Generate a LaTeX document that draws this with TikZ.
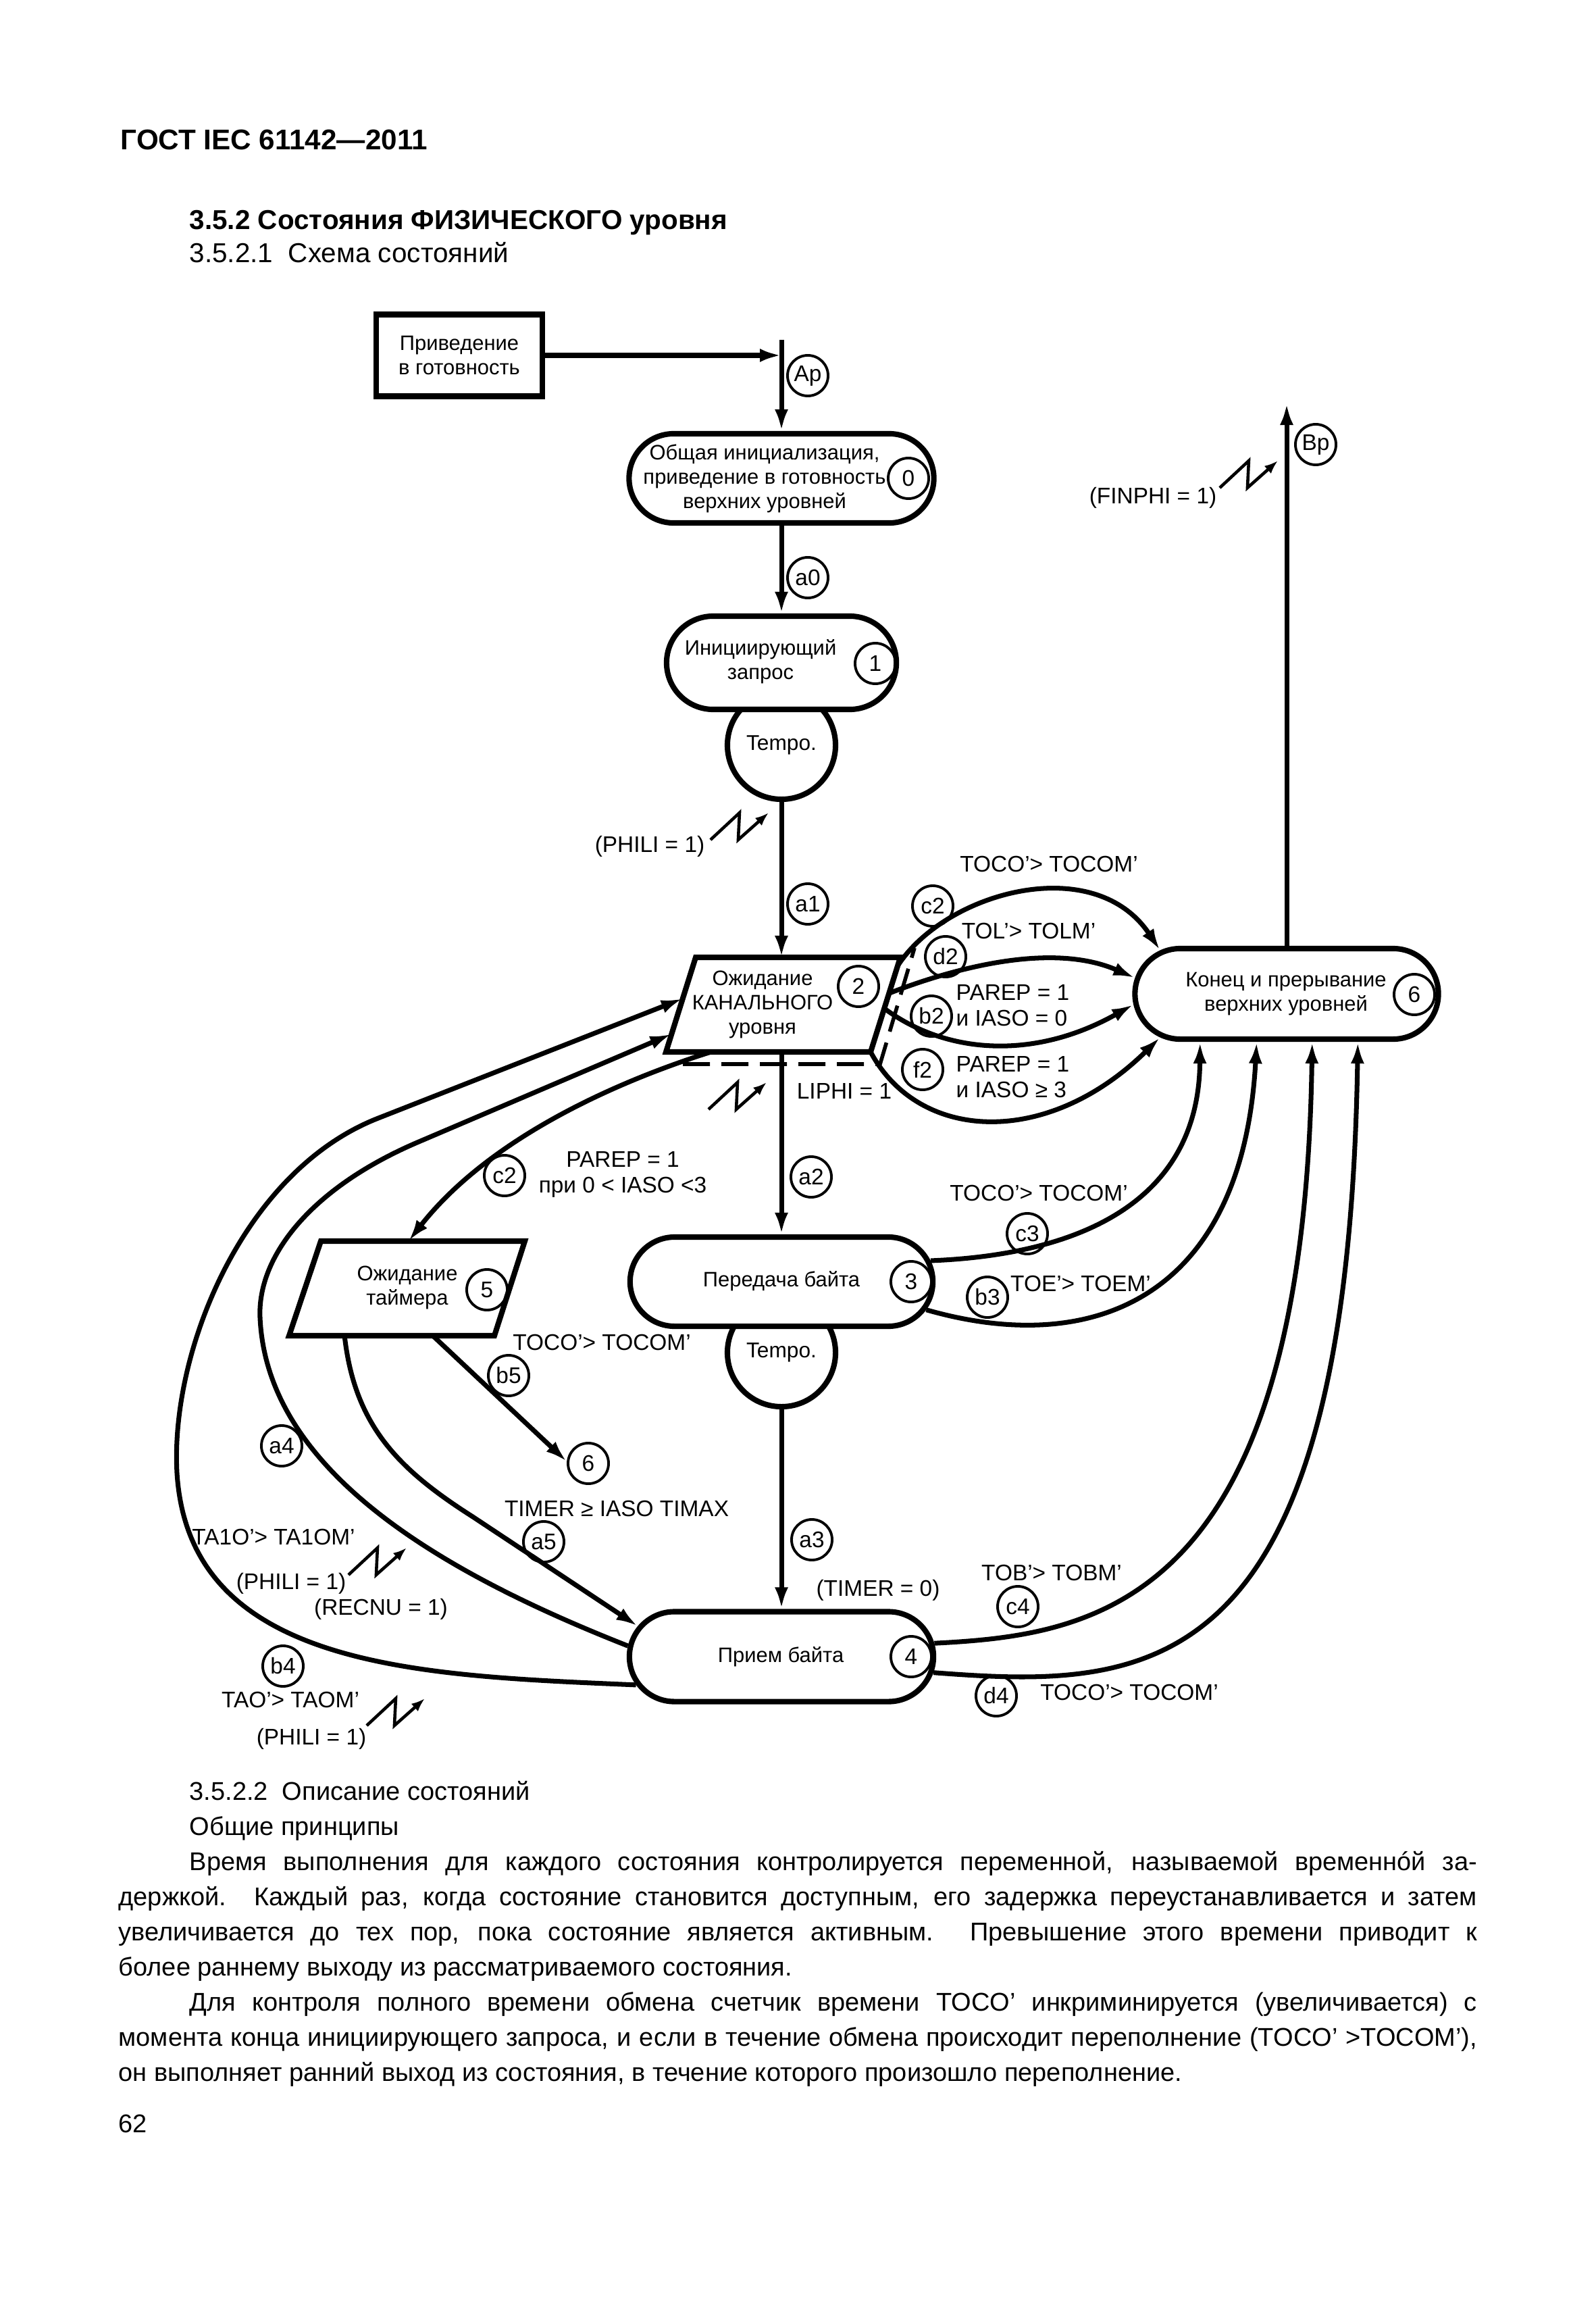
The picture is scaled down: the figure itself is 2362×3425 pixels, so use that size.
\documentclass[tikz,border=0pt]{standalone}
\usepackage{fontspec}
\setmainfont{Liberation Sans}
\usetikzlibrary{arrows.meta,shapes.misc,calc,positioning}
\tikzset{
    bloque/.style={draw,line width=2.3pt,fill=white,inner sep=0pt},
    estado/.style={rounded rectangle,draw,line width=2.3pt,fill=white,inner sep=0pt},
    tempo/.style={circle,draw,line width=2.3pt,fill=white,minimum size=1.6cm,inner sep=0pt,font=\fontsize{9}{10}\selectfont},
    num/.style={circle,draw,line width=1.1pt,minimum size=0.6cm,inner sep=0pt,font=\fontsize{9.5}{10}\selectfont},
    txt/.style={align=center,inner sep=0pt,font=\fontsize{8.8}{10.2}\selectfont},
    cond/.style={align=left,inner sep=0pt,font=\fontsize{9.5}{10.8}\selectfont},
    flecha/.style={draw,line width=2pt,-{Latex[length=3.2mm,width=2mm]}},
    rayo/.style={line width=1.3pt,-{Latex[length=2mm,width=1.5mm]}},
    punteado/.style={line width=1.6pt,dash pattern=on 4mm off 1.7mm},
}
\newcommand{\relampago}[1]{\draw[rayo] (#1) -- ++(43,-40) -- ++(-2,40) -- ++(45,-40);}

\begin{document}
\begin{tikzpicture}[x=0.01cm,y=-0.01cm]
    \useasboundingbox (0,0) rectangle (2362,3425);

    % encabezado
    \node[anchor=base west,inner sep=0pt,font=\bfseries\fontsize{12}{14}\selectfont] (gost) at (178,222) {ГОСТ IEC 61142—2011};
    \node[anchor=base west,inner sep=0pt,font=\bfseries\fontsize{11.5}{14}\selectfont] (secc) at (280,340) {3.5.2 Состояния ФИЗИЧЕСКОГО уровня};
    \node[anchor=base west,inner sep=0pt,font=\fontsize{11.5}{14}\selectfont] (subsecc) at (280,389) {3.5.2.1\ \ Схема состояний};

    % estados
    \node [tempo] (t1) at (1157,1103) {Tempo.};
    \node [tempo] (t3) at (1157,2002) {Tempo.};

    \node [bloque,txt,minimum width=2.46cm,minimum height=1.21cm] (init) at (680,526) {Приведение\\в готовность};

    \node [estado,minimum width=4.51cm,minimum height=1.32cm] (e0) at (1157,708) {};
    \node [txt] (e0txt) at (1132,708) {Общая инициализация,\\приведение в готовность\\верхних уровней};
    \node [num] (n0) at (1345,708) {0};

    \node [estado,minimum width=3.40cm,minimum height=1.38cm] (e1) at (1157,981) {};
    \node [txt] (e1txt) at (1126,979) {Инициирующий\\запрос};
    \node [num] (n1) at (1296,982) {1};

    \coordinate (p2nw) at (1030,1417);
    \coordinate (p2ne) at (1333,1417);
    \coordinate (p2se) at (1289,1557);
    \coordinate (p2sw) at (986,1557);
    \draw [bloque] (p2sw) -- (p2nw) -- (p2ne) -- (p2se) -- cycle;
    \node [txt] (e2txt) at (1129,1487) {Ожидание\\КАНАЛЬНОГО\\уровня};
    \node [num] (n2) at (1271,1460) {2};
    \draw [punteado] ($(p2sw)+(25,18)$) -- ($(p2se)+(14,18)$) -- ($(p2ne)+(21,-14)$);

    \node [estado,minimum width=4.48cm,minimum height=1.32cm] (e3) at (1157,1897) {};
    \node [txt] (e3txt) at (1157,1896) {Передача байта};
    \node [num] (n3) at (1349,1897) {3};

    \node [estado,minimum width=4.50cm,minimum height=1.33cm] (e4) at (1157,2452) {};
    \node [txt] (e4txt) at (1156,2452) {Прием байта};
    \node [num] (n4) at (1349,2452) {4};

    \coordinate (p5nw) at (475,1837);
    \coordinate (p5ne) at (777,1837);
    \coordinate (p5se) at (732,1977);
    \coordinate (p5sw) at (428,1977);
    \draw [bloque] (p5sw) -- (p5nw) -- (p5ne) -- (p5se) -- cycle;
    \node [txt] (e5txt) at (603,1906) {Ожидание\\таймера};
    \node [num] (n5) at (721,1909) {5};

    \node [estado,minimum width=4.49cm,minimum height=1.34cm] (e6) at (1905,1471) {};
    \node [txt] (e6txt) at (1904,1471) {Конец и прерывание\\верхних уровней};
    \node [num] (n6) at (2094,1472) {6};

    \node [num] (fin6) at (871,2166) {6};

    \coordinate (apTop) at (1157,503);
    \coordinate (bpTop) at (1905,597);

    % transiciones
    \path [flecha] (init.east) -- (init.east -| apTop);
    \path [flecha] (apTop) -- (e0.north);
    \path [flecha] (e0.south) -- (e1.north);
    \path [flecha] (t1.south) -- (t1.south |- p2nw);
    \path [flecha] (e3.north |- p2sw) -- (e3.north);
    \path [flecha] (t3.south) -- (e4.north);
    \path [flecha] (e6.north) -- (bpTop);

    \path [flecha] ($(p2ne)!0.09!(p2se)$) .. controls (1400,1320) and (1620,1260) .. (e6.161);
    \path [flecha] ($(p2ne)!0.38!(p2se)$) .. controls (1420,1430) and (1560,1395) .. (e6.174);
    \path [flecha] ($(p2ne)!0.54!(p2se)$) .. controls (1400,1560) and (1530,1570) .. (e6.184);
    \path [flecha] (p2se) .. controls (1360,1690) and (1550,1700) .. (e6.199);

    \path [flecha] (e3.8) .. controls (1580,1858) and (1775,1790) .. (e6.209);
    \path [flecha] (e3.-11) .. controls (1620,2010) and (1840,1920) .. (e6.238);
    \path [flecha] (e4.5) .. controls (1620,2420) and (1930,2380) .. (e6.298);
    \path [flecha] (e4.-6.5) .. controls (1700,2500) and (1995,2500) .. (e6.326.7);

    \path [flecha] ($(p2sw)!0.22!(p2se)$) .. controls (900,1605) and (720,1690) .. ($(p5nw)!0.43!(p5ne)$);
    \path [flecha] ($(p5sw)!0.70!(p5se)$) -- (fin6.175);
    \path [flecha] ($(p5sw)!0.27!(p5se)$) .. controls (525,2110) and (590,2175) .. (700,2245) -- (e4.168);
    \path [flecha] (e4.176) .. controls (660,2330) and (395,2180) .. (385,1950)
        .. controls (381,1860) and (460,1758) .. (620,1690) -- ($(p2nw)!0.81!(p2sw)$);
    \path [flecha] (e4.191) .. controls (620,2480) and (280,2470) .. (262,2180)
        .. controls (252,2000) and (360,1733) .. (560,1655) -- ($(p2nw)!0.436!(p2sw)$);

    % marcas de las transiciones
    \node [num] (mAp) at (1196,556) {Ap};
    \node [num] (ma0) at (1196,855) {a0};
    \node [num] (ma1) at (1196,1338) {a1};
    \node [num] (ma2) at (1201,1742) {a2};
    \node [num] (ma3) at (1202,2279) {a3};
    \node [num] (mBp) at (1948,658) {Bp};
    \node [num] (mc2) at (1381,1341) {c2};
    \node [num] (md2) at (1400,1416) {d2};
    \node [num] (mb2) at (1379,1504) {b2};
    \node [num] (mf2) at (1366,1583) {f2};
    \node [num] (mc2b) at (747,1740) {c2};
    \node [num] (mb5) at (753,2036) {b5};
    \node [num] (ma4) at (417,2140) {a4};
    \node [num] (ma5) at (805,2282) {a5};
    \node [num] (mb4) at (419,2466) {b4};
    \node [num] (mc3) at (1521,1826) {c3};
    \node [num] (mb3) at (1462,1920) {b3};
    \node [num] (mc4) at (1507,2378) {c4};
    \node [num] (md4) at (1475,2510) {d4};

    % condiciones
    \node [cond] (finphi) at (1707,737) {(FINPHI = 1)};
    \node [cond] (phili1) at (962,1253) {(PHILI = 1)};
    \node [cond] (liphi) at (1250,1615) {LIPHI = 1};
    \node [cond] (tocoA) at (1553,1279) {TOCO'> TOCOM'};
    \node [cond] (tol) at (1523,1378) {TOL'> TOLM'};
    \node [cond,anchor=west] (parepA) at (1415,1488) {PAREP = 1\\и IASO = 0};
    \node [cond,anchor=west] (parepB) at (1415,1594) {PAREP = 1\\и IASO ≥ 3};
    \node [cond,align=center] (parepC) at (922,1738) {PAREP = 1\\при 0 < IASO <3};
    \node [cond] (tocoB) at (1538,1766) {TOCO'> TOCOM'};
    \node [cond] (toe) at (1600,1900) {TOE'> TOEM'};
    \node [cond] (tocoC) at (891,1987) {TOCO'> TOCOM'};
    \node [cond] (timer) at (913,2233) {TIMER ≥ IASO TIMAX};
    \node [cond] (timer0) at (1300,2354) {(TIMER = 0)};
    \node [cond] (tob) at (1557,2328) {TOB'> TOBM'};
    \node [cond] (tocoD) at (1672,2505) {TOCO'> TOCOM'};
    \node [cond] (ta1o) at (405,2275) {TA1O'> TA1OM'};
    \node [cond] (phili2) at (431,2344) {(PHILI = 1)};
    \node [cond] (recnu) at (564,2382) {(RECNU = 1)};
    \node [cond] (tao) at (430,2516) {TAO'> TAOM'};
    \node [cond] (phili3) at (461,2574) {(PHILI = 1)};

    \relampago{$(finphi.east)+(4,-15)$}
    \relampago{$(phili1.east)+(8,-10)$}
    \relampago{1049,1642}
    \relampago{$(phili2.east)+(3,-13)$}
    \relampago{$(phili3.east)+(0,-20)$}

    % texto
    \node [anchor=base west,inner sep=0pt,text width=20.1cm,align=justify,
        font=\fontsize{10.8}{14.8}\selectfont] (texto) at (175,2664) {%
        \hyphenpenalty=10000 \exhyphenpenalty=10000
        \hspace*{1.05cm}3.5.2.2\ \ Описание состояний\par
        \hspace*{1.05cm}Общие принципы\par
        \hspace*{1.05cm}Время выполнения для каждого состояния контролируется переменной, называемой временнóй за-\linebreak
        держкой. Каждый раз, когда состояние становится доступным, его задержка переустанавливается и затем\linebreak
        увеличивается до тех пор, пока состояние является активным. Превышение этого времени приводит к\linebreak
        более раннему выходу из рассматриваемого состояния.\par
        \hspace*{1.05cm}Для контроля полного времени обмена счетчик времени TOCO' инкриминируется (увеличивается) с\linebreak
        момента конца инициирующего запроса, и если в течение обмена происходит переполнение (TOCO' >TOCOM'),\linebreak
        он выполняет ранний выход из состояния, в течение которого произошло переполнение.};
    \node [anchor=base west,inner sep=0pt,font=\fontsize{10.8}{14.8}\selectfont] (pagina) at (175,3156) {62};
\end{tikzpicture}
\end{document}
